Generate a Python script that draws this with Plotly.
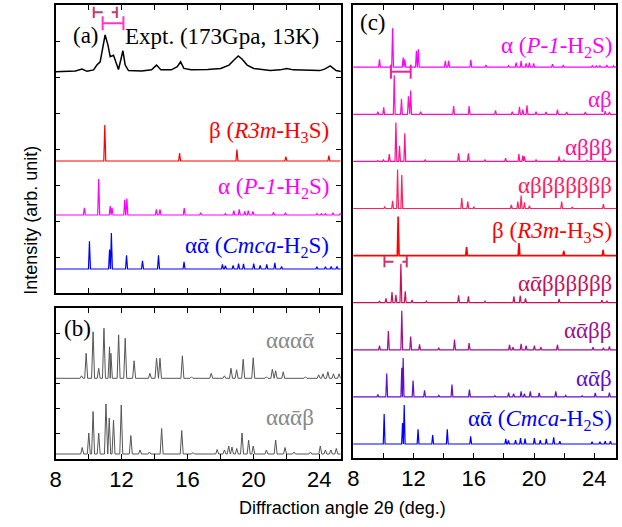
import plotly.graph_objects as go

# ---------------- data ----------------
# Experimental pattern (2theta, relative intensity)
expt_x = [8.0, 9.2, 9.6, 9.9, 10.3, 10.5, 10.7, 10.85, 11.0, 11.17, 11.31, 11.51, 11.67, 11.81,
          11.95, 12.08, 12.22, 12.42, 13.22, 13.82, 14.12, 14.38, 15.02, 15.38, 15.58, 15.78,
          16.22, 17.22, 18.02, 18.52, 18.82, 19.08, 19.32, 19.62, 20.02, 21.02, 21.62, 22.02,
          22.42, 23.22, 24.02, 24.32, 24.66, 25.02, 25.42]
expt_y = [0, 2, 7, 1, 5, 18, 27, 59, 100, 73, 41, 45, 23, 6,
          32, 57, 18, 3, 2, 5, 18, 5, 5, 14, 27, 9,
          5, 6, 9, 18, 32, 43, 34, 18, 9, 3, 5, 9,
          5, 5, 3, 7, 16, 3, 0]

# beta (R3m-H3S)
beta_pos = [10.98, 15.52, 19.0, 21.97, 24.58]
beta_int = [100, 22, 32, 12, 15]

# alpha (P-1-H2S)
alpha_pos = [9.74, 10.61, 11.31, 11.42, 12.19, 12.32, 14.11, 14.33, 15.8, 16.8, 18.3, 18.81,
             19.14, 19.47, 19.69, 19.97, 21.22, 21.94, 23.86, 24.13, 24.37, 24.83, 25.27]
alpha_int = [20, 100, 25, 20, 42, 46, 16, 16, 19, 6, 4, 12,
             16, 10, 12, 10, 8, 6, 4, 4, 4, 6, 4]

# alpha alpha-bar (Cmca-H2S)
aa_pos = [10.05, 11.27, 11.38, 12.3, 13.27, 14.24, 15.79, 18.12, 18.3, 18.77, 19.1, 19.4,
          20.02, 20.41, 20.81, 21.3, 21.71, 23.85, 24.37, 24.72, 25.07]
aa_int = [77, 54, 100, 38, 23, 38, 20, 13, 9, 10, 15, 14,
          15, 10, 13, 17, 7, 6, 6, 7, 7]

# (b) alpha alpha alpha alpha-bar
aaaa_pos = [9.57, 9.85, 10.27, 10.61, 10.93, 11.27, 11.35, 11.82, 12.22, 12.76, 13.72, 14.12,
            14.33, 15.69, 16.24, 17.44, 18.24, 18.64, 18.98, 19.38, 19.99, 20.79, 21.15,
            21.35, 21.81, 23.16, 23.96, 24.22, 24.52, 24.86, 25.2]
aaaa_int = [5, 50, 93, 20, 100, 63, 50, 87, 80, 35, 10, 40,
            40, 45, 3, 10, 5, 20, 17, 38, 41, 3, 18,
            15, 13, 3, 7, 9, 13, 9, 9]

# (b) alpha alpha alpha-bar beta
aaab_pos = [9.61, 10.01, 10.27, 10.61, 11.05, 11.25, 11.51, 11.98, 12.56, 13.12, 13.69, 14.43,
            15.65, 16.33, 17.8, 18.24, 18.5, 18.7, 18.99, 19.31, 19.71, 19.99, 20.79, 21.35,
            21.92, 22.46, 23.46, 24.06, 24.37, 24.7, 25.03]
aaab_int = [13, 42, 85, 42, 100, 72, 68, 98, 37, 8, 4, 51,
            47, 3, 9, 8, 16, 14, 11, 42, 28, 16, 8, 28,
            13, 4, 4, 16, 8, 8, 11]

# (c) alpha beta
ab_pos = [9.63, 10.02, 10.72, 11.2, 11.66, 11.81, 12.47, 14.66, 15.69, 17.44, 18.55, 19.03,
          19.25, 19.53, 20.13, 20.79, 21.55, 22.16, 23.4, 24.72, 25.0]
ab_int = [7, 18, 100, 40, 46, 61, 7, 21, 21, 10, 7, 19,
          12, 23, 7, 6, 12, 6, 6, 8, 6]

# (c) alpha beta beta beta
ab3_pos = [9.63, 10.0, 10.39, 10.83, 11.07, 11.42, 12.77, 14.99, 15.64, 16.74, 18.11, 18.99,
           19.25, 19.36, 20.13, 21.66, 21.98, 23.5, 24.72]
ab3_int = [2, 4, 19, 100, 40, 72, 4, 21, 21, 4, 8, 19,
           15, 13, 4, 13, 4, 3, 8]

# (c) alpha beta x7
ab7_pos = [10.09, 10.61, 10.94, 11.22, 15.2, 15.6, 16.0, 18.49, 18.92, 19.14, 19.36, 19.69,
           21.83, 22.53, 24.6]
ab7_int = [4, 20, 100, 86, 27, 18, 4, 9, 18, 33, 16, 7,
           18, 4, 11]

# (c) alpha alpha-bar beta x6
aab6_pos = [9.74, 10.17, 10.57, 10.83, 11.16, 11.45, 11.9, 12.85, 14.99, 15.64, 16.74, 18.66,
            19.08, 19.43, 21.66, 24.5, 24.83]
aab6_int = [4, 11, 27, 20, 100, 29, 7, 4, 19, 16, 4, 16,
            18, 11, 10, 7, 5]

# (c) alpha alpha-bar beta beta
aab2_pos = [9.74, 10.33, 11.22, 11.81, 12.4, 13.67, 14.72, 15.69, 18.37, 18.6, 19.14, 19.47,
            20.02, 20.45, 21.55, 23.91, 24.6, 25.0]
aab2_int = [11, 48, 100, 34, 14, 5, 26, 17, 13, 7, 15, 11,
            11, 7, 13, 7, 5, 9]

# (c) alpha alpha-bar beta
aab1_pos = [9.63, 10.22, 11.22, 11.31, 11.97, 12.73, 13.68, 14.55, 15.71, 17.4, 18.31, 18.64,
            19.14, 19.36, 19.75, 20.34, 21.44, 22.1, 23.19, 24.06, 25.0]
aab1_int = [6, 60, 75, 100, 42, 17, 4, 32, 19, 3, 11, 8,
            14, 8, 14, 10, 14, 4, 3, 10, 11]

# peak-range bars (2theta start, end)
bar_a_solid = [10.85, 12.11]
bar_a_dash = [10.31, 11.71]
bar_c_solid = [10.5, 11.81]
bar_c_dash = [10.07, 11.55]

x_ticks = [8, 12, 16, 20, 24]

# ---------------- helpers ----------------
W, H = 622, 527


def px(x):
    return x / W


def py(y):
    return 1 - y / H


def spectrum(pos, ints, w, xmin, xmax, offset, scale):
    pk = sorted(zip(pos, ints))
    xs, ys = [xmin], [offset]
    for i, (p, h) in enumerate(pk):
        left = p - w
        right = p + w
        if i > 0:
            left = max(left, (pk[i - 1][0] + p) / 2)
        if i < len(pk) - 1:
            right = min(right, (pk[i + 1][0] + p) / 2)
        xs += [left, p, right]
        ys += [offset, offset + h * scale, offset]
    xs.append(xmax)
    ys.append(offset)
    return xs, ys


fig = go.Figure()

XA_MAX = 25.3
XC_MAX = 25.44

# ---- panel (a) ----
ex, ey = [], []
for xv, yv in zip(expt_x, expt_y):
    ex.append(xv)
    ey.append(221.3 + yv * 0.367)
fig.add_trace(go.Scatter(x=ex, y=ey, mode="lines", line=dict(color="black", width=1.5),
                         xaxis="x", yaxis="y"))
for pos, ints, off, col in [(beta_pos, beta_int, 132, "#ff0000"),
                            (alpha_pos, alpha_int, 78, "#ff00ff"),
                            (aa_pos, aa_int, 24, "#0000ff")]:
    xs, ys = spectrum(pos, ints, 0.06, 8, XA_MAX, off, 0.36)
    fig.add_trace(go.Scatter(x=xs, y=ys, mode="lines", line=dict(color=col, width=1.2),
                             xaxis="x", yaxis="y"))

# ---- panel (b) ----
for pos, ints, off in [(aaaa_pos, aaaa_int, 80.7), (aaab_pos, aaab_int, 5)]:
    xs, ys = spectrum(pos, ints, 0.09, 8, XA_MAX, off, 0.5)
    fig.add_trace(go.Scatter(x=xs, y=ys, mode="lines", line=dict(color="#555555", width=1.0),
                             xaxis="x2", yaxis="y2"))

# ---- panel (c) ----
c_series = [
    (alpha_pos, alpha_int, "#ff00ff"),
    (ab_pos, ab_int, "#ff10c8"),
    (ab3_pos, ab3_int, "#ff1090"),
    (ab7_pos, ab7_int, "#ff2060"),
    (beta_pos, beta_int, "#ff0000"),
    (aab6_pos, aab6_int, "#c8105a"),
    (aab2_pos, aab2_int, "#a0108f"),
    (aab1_pos, aab1_int, "#6010c8"),
    (aa_pos, aa_int, "#0000ff"),
]
n = len(c_series)
for i, (pos, ints, col) in enumerate(c_series):
    off = 14 + 47.1 * (n - 1 - i)
    xs, ys = spectrum(pos, ints, 0.06, 8, XC_MAX, off, 0.39)
    fig.add_trace(go.Scatter(x=xs, y=ys, mode="lines",
                             line=dict(color=col, width=1.6 if col == "#ff0000" else 1.2),
                             xaxis="x3", yaxis="y3"))


# ---- range bars ----
def range_bar(rng, yv, col, dash, xa, ya, size):
    fig.add_trace(go.Scatter(x=rng, y=[yv, yv], mode="lines+markers",
                             line=dict(color=col, width=2, dash=dash),
                             marker=dict(symbol="line-ns", size=size,
                                         line=dict(color=col, width=2)),
                             xaxis=xa, yaxis=ya))


range_bar(bar_a_dash, 280.7, "#cc3366", "dash", "x", "y", 8)
range_bar(bar_a_solid, 269.7, "#ff33cc", "solid", "x", "y", 10)
range_bar(bar_c_solid, 386.3, "#f0209a", "solid", "x3", "y3", 10)
range_bar(bar_c_dash, 196.3, "#cc3366", "dash", "x3", "y3", 8)

# ---------------- axes ----------------
minor = dict(tick0=8, dtick=2, ticks="inside", ticklen=5, tickwidth=1, tickcolor="black",
             showgrid=False)
frame = dict(showline=True, linecolor="black", linewidth=1.5, mirror="ticks",
             ticks="inside", ticklen=5, tickwidth=1, tickcolor="black",
             showgrid=False, zeroline=False, fixedrange=True)
tickfont = dict(family="Liberation Sans, Arial, sans-serif", size=22, color="black")

xdomA = [px(50), px(338)]
xdomC = [px(350.5), px(616)]

fig.update_layout(
    xaxis=dict(domain=xdomA, range=[7.99, XA_MAX], anchor="y", tickvals=x_ticks,
               showticklabels=False, minor=minor, **frame),
    yaxis=dict(domain=[py(293), py(5)], range=[0, 288], anchor="x",
               tickvals=[36, 72, 108, 144, 180, 216, 252], showticklabels=False, **frame),
    xaxis2=dict(domain=xdomA, range=[7.99, XA_MAX], anchor="y2", tickvals=x_ticks,
                tickfont=tickfont, minor=minor, **frame),
    yaxis2=dict(domain=[py(459), py(308)], range=[0, 151], anchor="x2",
                tickvals=[26, 51, 76, 101, 126], showticklabels=False, **frame),
    xaxis3=dict(domain=xdomC, range=[7.99, XC_MAX], anchor="y3", tickvals=x_ticks,
                tickfont=tickfont, minor=minor, **frame),
    yaxis3=dict(domain=[py(458), py(5)], range=[0, 453], anchor="x3",
                showline=True, linecolor="black", linewidth=1.5, mirror=True,
                ticks="", showticklabels=False, showgrid=False, zeroline=False,
                fixedrange=True),
)

serif = "Liberation Serif, DejaVu Serif, Times New Roman, serif"
sans = "Liberation Sans, Arial, sans-serif"
AB = "\u1fb1"  # alpha with macron (alpha-bar)

labels = [
    # text, x (px), center-y (px), color, anchor
    ("(a)", 66, 35, "black", "left"),
    ("Expt. (173Gpa, 13K)", 118, 37, "black", "left"),
    ("β (<i>R3m</i>-H<sub>3</sub>S)", 328, 132, "#ff0000", "right"),
    ("α (<i>P-1</i>-H<sub>2</sub>S)", 328, 188, "#ff00ff", "right"),
    ("α" + AB + " (<i>Cmca</i>-H<sub>2</sub>S)", 328, 247, "#0000ff", "right"),
    ("(b)", 57, 328, "black", "left"),
    ("ααα" + AB, 313, 340, "#888888", "right"),
    ("αα" + AB + "β", 313, 417, "#888888", "right"),
    ("(c)", 355, 22, "black", "left"),
    ("α (<i>P-1</i>-H<sub>2</sub>S)", 614, 47, "#ff00ff", "right"),
    ("αβ", 614, 100, "#ff10c8", "right"),
    ("αβββ", 614, 147, "#ff1090", "right"),
    ("αβββββββ", 614, 185, "#ff2060", "right"),
    ("β (<i>R3m</i>-H<sub>3</sub>S)", 614, 232, "#ff0000", "right"),
    ("α" + AB + "ββββββ", 614, 283, "#c8105a", "right"),
    ("α" + AB + "ββ", 614, 330, "#a0108f", "right"),
    ("α" + AB + "β", 614, 378, "#6010c8", "right"),
    ("α" + AB + " (<i>Cmca</i>-H<sub>2</sub>S)", 614, 420, "#0000ff", "right"),
]
ann = []
for text, x, y, col, anc in labels:
    ann.append(dict(text=text, x=px(x), y=py(y), xref="paper", yref="paper",
                    xanchor=anc, yanchor="middle", showarrow=False,
                    font=dict(family=serif, size=23, color=col)))
ann.append(dict(text="Diffraction angle 2θ (deg.)", x=px(340), y=py(508), xref="paper",
                yref="paper", xanchor="center", yanchor="middle", showarrow=False,
                font=dict(family=sans, size=18, color="black")))
ann.append(dict(text="Intensity (arb. unit)", x=px(25), y=py(220), xref="paper",
                yref="paper", xanchor="center", yanchor="middle", showarrow=False,
                textangle=-90, font=dict(family=sans, size=18, color="black")))

fig.update_layout(width=W, height=H, margin=dict(l=0, r=0, t=0, b=0),
                  paper_bgcolor="white", plot_bgcolor="white", showlegend=False,
                  annotations=ann)

fig.write_html("out.html", config={"displayModeBar": False},
               post_script="document.body.style.margin='0';document.body.style.padding='0';")
